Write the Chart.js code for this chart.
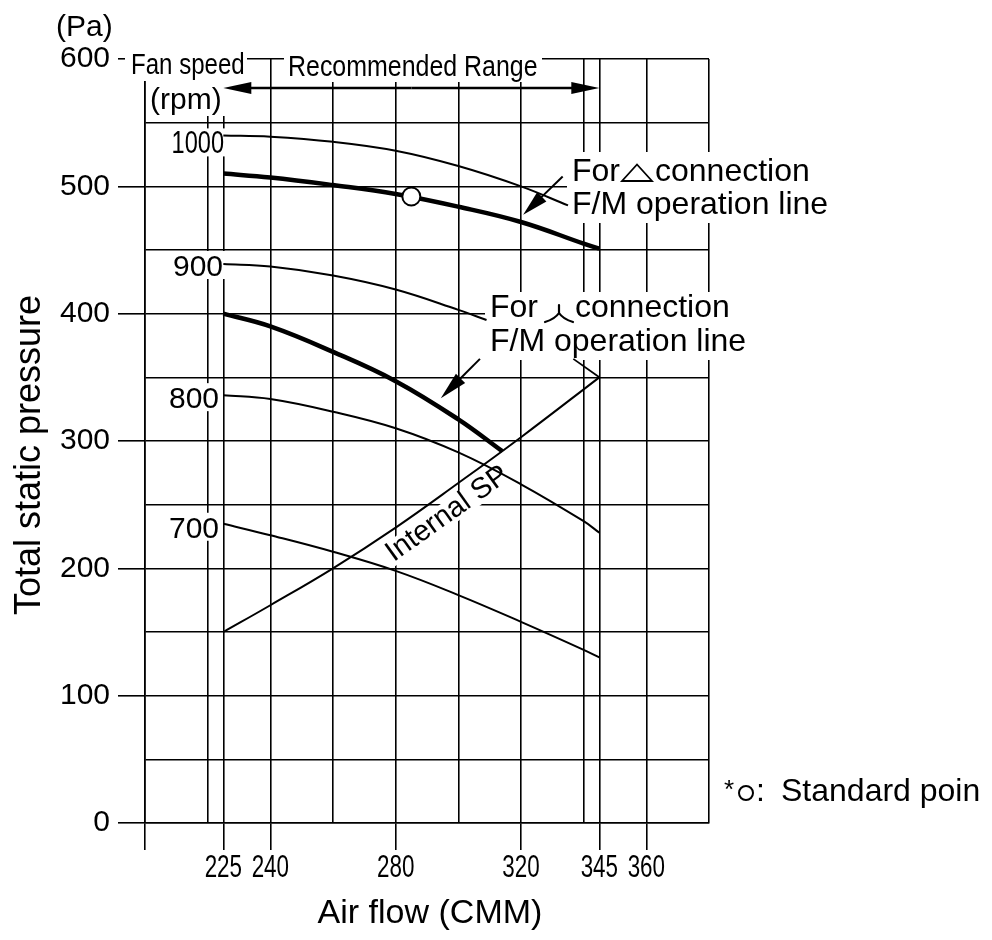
<!DOCTYPE html>
<html>
<head>
<meta charset="utf-8">
<title>Fan performance curve</title>
<script src="https://cdn.jsdelivr.net/npm/chart.js@4.4.1/dist/chart.umd.min.js"></script>
<style>
  html, body { margin: 0; padding: 0; background: #fff; }
  #wrap { width: 992px; height: 940px; }
</style>
</head>
<body>
<div id="wrap"><canvas id="fanChart" width="992" height="940"></canvas></div>
<script>
// axis grid / labels (air flow in CMM, pressure in Pa)
const xGridValues = [200, 220, 225, 240, 260, 280, 300, 320, 340, 345, 360, 380];
const xLabelValues = [225, 240, 280, 320, 345, 360];
const xLongTicks = [200, 225, 240, 280, 320, 345, 360];
const yLabelValues = [0, 100, 200, 300, 400, 500, 600];

// fan curves per speed (rpm)
const rpmLabels = ['1000', '900', '800', '700'];
const rpm1000Flow = [225, 240, 260, 280, 300, 320, 335];
const rpm1000Pa = [540, 539, 535, 528, 516, 500, 485];
const rpm900Flow = [225, 240, 260, 280, 300, 309];
const rpm900Pa = [439, 437, 430, 419, 403, 395];
const rpm800Flow = [225, 240, 260, 280, 300, 320, 340, 345];
const rpm800Pa = [336, 333, 323, 310, 291, 266, 237, 228];
const rpm700Flow = [225, 240, 260, 280, 300, 320, 340, 345];
const rpm700Pa = [235, 226, 213, 198, 179, 158, 136, 130];

// F/M operation lines
const deltaFlow = [225, 240, 260, 280, 300, 320, 340, 345];
const deltaPa = [510, 507, 501, 494, 484, 472, 455, 451];
const starFlow = [225, 240, 260, 280, 300, 314];
const starPa = [400, 390, 370, 347, 317, 292];

// internal static pressure
const internalFlow = [225, 240, 260, 280, 300, 320, 345];
const internalPa = [150, 171, 200, 232, 267, 303, 350];

// standard point and recommended range
const standardFlow = [285];
const standardPa = [492];
const rangeFlow = [225, 345];

const FONT = '"Liberation Sans", Arial, Helvetica, sans-serif';

function pts(xs, ys) {
    return xs.map((x, i) => ({ x: x, y: ys[i] }));
}

function curve(xs, ys, width) {
    return {
        data: pts(xs, ys),
        borderColor: '#000',
        borderWidth: width,
        pointRadius: 0,
        fill: false,
        tension: 0.4
    };
}

function txt(ctx, s, x, y, size, opts) {
    opts = opts || {};
    ctx.save();
    ctx.font = size + 'px ' + FONT;
    ctx.fillStyle = '#000';
    ctx.textAlign = opts.align || 'left';
    ctx.textBaseline = opts.baseline || 'alphabetic';
    ctx.translate(x, y);
    if (opts.rotate) ctx.rotate(opts.rotate);
    ctx.scale(opts.sx || 1, 1);
    ctx.fillText(s, 0, 0);
    ctx.restore();
}

function textWidth(ctx, s, size, sx) {
    ctx.save();
    ctx.font = size + 'px ' + FONT;
    const w = ctx.measureText(s).width * (sx || 1);
    ctx.restore();
    return w;
}

function whiteBox(ctx, x1, y1, x2, y2) {
    ctx.save();
    ctx.fillStyle = '#fff';
    ctx.fillRect(x1, y1, x2 - x1, y2 - y1);
    ctx.restore();
}

function arrow(ctx, x1, y1, x2, y2, len, half, lw) {
    const a = Math.atan2(y2 - y1, x2 - x1);
    const bx = x2 - len * Math.cos(a), by = y2 - len * Math.sin(a);
    ctx.save();
    ctx.strokeStyle = '#000';
    ctx.fillStyle = '#000';
    ctx.lineWidth = lw;
    ctx.beginPath();
    ctx.moveTo(x1, y1);
    ctx.lineTo(bx + 2 * Math.cos(a), by + 2 * Math.sin(a));
    ctx.stroke();
    ctx.beginPath();
    ctx.moveTo(x2, y2);
    ctx.lineTo(bx + half * Math.sin(a), by - half * Math.cos(a));
    ctx.lineTo(bx - half * Math.sin(a), by + half * Math.cos(a));
    ctx.closePath();
    ctx.fill();
    ctx.restore();
}

// label layout: right edge and baseline offset from the curve start
const rpmLayout = [
    { right: 224, dy: 18, size: 31, sx: 0.76 },
    { right: 223, dy: 12, size: 30, sx: 1 },
    { right: 219, dy: 13, size: 30, sx: 1 },
    { right: 219, dy: 14, size: 30, sx: 1 }
];
const rpmStarts = [rpm1000Pa[0], rpm900Pa[0], rpm800Pa[0], rpm700Pa[0]];

function interp(xs, ys, x) {
    for (let i = 0; i < xs.length - 1; i++) {
        if (x >= xs[i] && x <= xs[i + 1]) {
            return ys[i] + (ys[i + 1] - ys[i]) * (x - xs[i]) / (xs[i + 1] - xs[i]);
        }
    }
    return ys[ys.length - 1];
}

function spLabelGeom(chart) {
    const xs = chart.scales.x, ys = chart.scales.y;
    const u = 293;
    const px = xs.getPixelForValue(u), py = ys.getPixelForValue(interp(internalFlow, internalPa, u));
    const ax = xs.getPixelForValue(280), ay = ys.getPixelForValue(interp(internalFlow, internalPa, 280));
    const bx = xs.getPixelForValue(305), by = ys.getPixelForValue(interp(internalFlow, internalPa, 305));
    const ang = Math.atan2(by - ay, bx - ax);
    const off = 19;
    return { x: px - off * Math.sin(ang), y: py + off * Math.cos(ang), ang: ang };
}

const annotationPlugin = {
    id: 'annotations',
    beforeDatasetsDraw(chart) {
        const ctx = chart.ctx;
        const ys = chart.scales.y;
        // white backgrounds behind texts (hide grid lines)
        whiteBox(ctx, 125, 45, 247, 81);
        whiteBox(ctx, 147, 81, 227, 116);
        whiteBox(ctx, 284, 45, 542, 82);
        whiteBox(ctx, 567, 152, 840, 223);
        whiteBox(ctx, 485, 292, 762, 360);
        rpmLabels.forEach((lab, i) => {
            const L = rpmLayout[i];
            const base = ys.getPixelForValue(rpmStarts[i]) + L.dy;
            const w = textWidth(ctx, lab, L.size, L.sx);
            whiteBox(ctx, L.right - w - 3, base - 25, Math.min(L.right + 3, 226), base + 3);
        });
        const g = spLabelGeom(chart);
        const w = textWidth(ctx, 'Internal SP', 29);
        ctx.save();
        ctx.translate(g.x, g.y);
        ctx.rotate(g.ang);
        ctx.fillStyle = '#fff';
        ctx.fillRect(-w / 2 - 3, -12, w + 6, 24);
        ctx.restore();
    },
    afterDraw(chart) {
        const ctx = chart.ctx;
        const xs = chart.scales.x, ys = chart.scales.y;

        // tick labels
        yLabelValues.forEach(v => txt(ctx, String(v), 110, ys.getPixelForValue(v), 30, { align: 'right', baseline: 'middle' }));
        xLabelValues.forEach(v => txt(ctx, String(v), xs.getPixelForValue(v), 877, 32, { align: 'center', sx: 0.7 }));

        // axis titles
        txt(ctx, '(Pa)', 56, 36, 30);
        txt(ctx, 'Total static pressure', 40, 455, 36, { align: 'center', rotate: -Math.PI / 2 });
        txt(ctx, 'Air flow (CMM)', 430, 923, 34, { align: 'center' });

        // header labels
        txt(ctx, 'Fan speed', 131, 74, 29, { sx: 0.83 });
        txt(ctx, '(rpm)', 150, 109, 30);
        txt(ctx, 'Recommended Range', 288, 76, 29, { sx: 0.86 });

        // recommended range double arrow
        const r1 = xs.getPixelForValue(rangeFlow[0]), r2 = xs.getPixelForValue(rangeFlow[1]);
        const mid = (r1 + r2) / 2;
        arrow(ctx, mid, 88, r1, 88, 28, 6, 2.5);
        arrow(ctx, mid, 88, r2, 88, 28, 6, 2.5);

        // rpm labels
        rpmLabels.forEach((lab, i) => {
            const L = rpmLayout[i];
            const base = ys.getPixelForValue(rpmStarts[i]) + L.dy;
            txt(ctx, lab, L.right, base, L.size, { align: 'right', sx: L.sx });
        });

        // delta connection label
        txt(ctx, 'For', 572, 181, 32);
        ctx.save();
        ctx.strokeStyle = '#000';
        ctx.lineWidth = 1.8;
        ctx.beginPath();
        ctx.moveTo(622, 181);
        ctx.lineTo(652, 181);
        ctx.lineTo(637, 164.5);
        ctx.closePath();
        ctx.stroke();
        ctx.restore();
        txt(ctx, 'connection', 655, 181, 32);
        txt(ctx, 'F/M operation line', 572, 214, 32);
        arrow(ctx, xs.getPixelForValue(333.3), ys.getPixelForValue(507.7),
            xs.getPixelForValue(320.7), ys.getPixelForValue(477.6), 26, 6.5, 2);

        // star connection label
        txt(ctx, 'For', 490, 317, 32);
        ctx.save();
        ctx.strokeStyle = '#000';
        ctx.lineWidth = 2.2;
        ctx.lineCap = 'round';
        ctx.beginPath();
        ctx.moveTo(559, 305);
        ctx.lineTo(559, 313);
        ctx.quadraticCurveTo(555, 319, 545, 322);
        ctx.moveTo(559, 313);
        ctx.quadraticCurveTo(563, 319, 573, 322);
        ctx.stroke();
        ctx.restore();
        txt(ctx, 'connection', 575, 317, 32);
        txt(ctx, 'F/M operation line', 490, 351, 32);
        arrow(ctx, xs.getPixelForValue(306.9), ys.getPixelForValue(364.5),
            xs.getPixelForValue(294.4), ys.getPixelForValue(333.6), 28, 6.5, 2);
        ctx.save();
        ctx.strokeStyle = '#000';
        ctx.lineWidth = 1.8;
        ctx.beginPath();
        ctx.moveTo(xs.getPixelForValue(336.7), ys.getPixelForValue(364.5));
        ctx.lineTo(xs.getPixelForValue(internalFlow[internalFlow.length - 1]), ys.getPixelForValue(internalPa[internalPa.length - 1]));
        ctx.stroke();
        ctx.restore();

        // internal SP label along the line
        const g = spLabelGeom(chart);
        txt(ctx, 'Internal SP', g.x, g.y, 29, { align: 'center', baseline: 'middle', rotate: g.ang });

        // standard point note
        txt(ctx, '*', 724, 798, 26);
        ctx.save();
        ctx.strokeStyle = '#000';
        ctx.lineWidth = 2;
        ctx.beginPath();
        ctx.arc(746, 793, 7, 0, Math.PI * 2);
        ctx.stroke();
        ctx.restore();
        txt(ctx, ':', 756, 801, 32);
        txt(ctx, 'Standard poin', 781, 801, 32);
    }
};

const ctx = document.getElementById('fanChart').getContext('2d');

const fanChart = new Chart(ctx, {
    type: 'line',
    data: {
        datasets: [
            {
                data: pts(standardFlow, standardPa),
                showLine: false,
                pointRadius: 9,
                pointBackgroundColor: '#fff',
                pointBorderColor: '#000',
                pointBorderWidth: 2
            },
            curve(deltaFlow, deltaPa, 4.5),
            curve(starFlow, starPa, 4.5),
            curve(rpm1000Flow, rpm1000Pa, 2),
            curve(rpm900Flow, rpm900Pa, 2),
            curve(rpm800Flow, rpm800Pa, 2),
            curve(rpm700Flow, rpm700Pa, 2),
            curve(internalFlow, internalPa, 2)
        ]
    },
    options: {
        responsive: false,
        animation: false,
        devicePixelRatio: 1,
        layout: { padding: { left: 118, right: 283, top: 59, bottom: 90 } },
        plugins: { legend: { display: false }, tooltip: { enabled: false } },
        scales: {
            x: {
                type: 'linear',
                min: 200,
                max: 380,
                afterBuildTicks: axis => { axis.ticks = xGridValues.map(v => ({ value: v })); },
                ticks: { display: false },
                grid: {
                    color: '#000',
                    lineWidth: 1.6,
                    tickLength: 27,
                    tickWidth: 1.6,
                    tickColor: c => (c.tick && xLongTicks.includes(c.tick.value)) ? '#000' : 'rgba(0,0,0,0)'
                },
                border: { display: true, color: '#000', width: 1.6 }
            },
            y: {
                type: 'linear',
                min: 0,
                max: 600,
                ticks: { display: false, stepSize: 50 },
                grid: {
                    color: '#000',
                    lineWidth: 1.6,
                    tickLength: 27,
                    tickWidth: 1.6,
                    tickColor: c => (c.tick && c.tick.value % 100 === 0) ? '#000' : 'rgba(0,0,0,0)'
                },
                border: { display: true, color: '#000', width: 1.6 }
            }
        }
    },
    plugins: [annotationPlugin]
});
</script>
</body>
</html>
